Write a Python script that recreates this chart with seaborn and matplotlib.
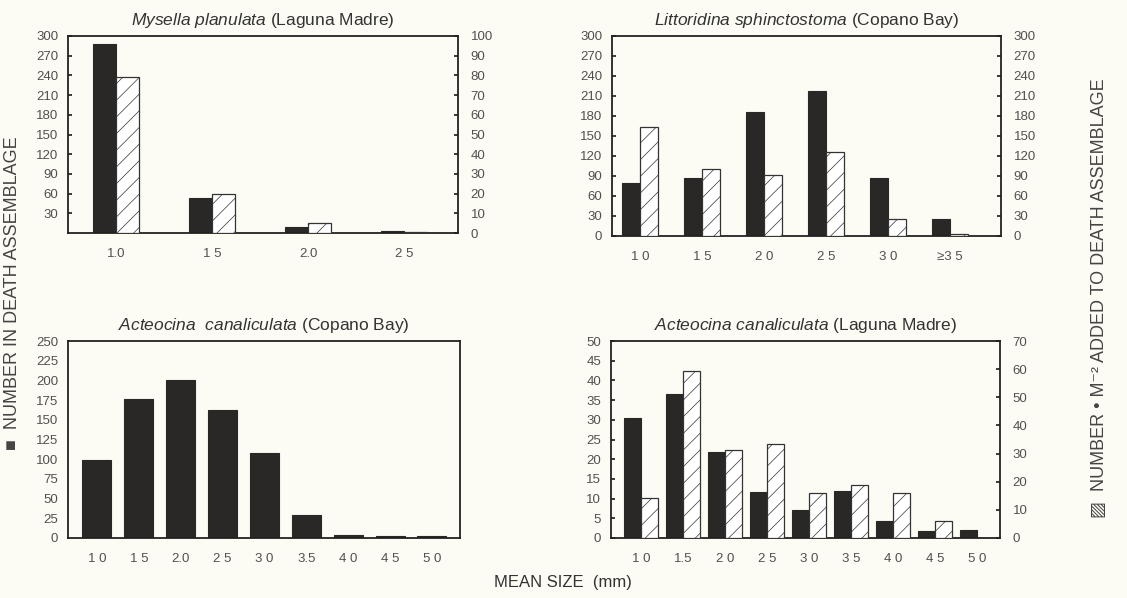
import numpy as np
import pandas as pd
import matplotlib.pyplot as plt
import seaborn as sns

# values
p1_sizes = ['1.0', '1 5', '2.0', '2 5']
p1_dead = [288, 53, 9, 3]
p1_added = [79, 20, 5, 0.3]

p2_sizes = ['1 0', '1 5', '2 0', '2 5', '3 0', '≥3 5']
p2_dead = [80, 87, 186, 217, 87, 26]
p2_added = [163, 101, 91, 126, 25, 3]

p3_sizes = ['1 0', '1 5', '2.0', '2 5', '3 0', '3.5', '4 0', '4 5', '5 0']
p3_dead = [99, 177, 201, 163, 108, 29, 4, 3, 2]

p4_sizes = ['1 0', '1.5', '2 0', '2 5', '3 0', '3 5', '4 0', '4 5', '5 0']
p4_dead = [30.5, 36.6, 21.8, 11.8, 7.1, 12.0, 4.2, 1.9, 2.0]
p4_added = [14.1, 59.2, 31.3, 33.4, 15.9, 18.9, 16.1, 6.2, 0]

sns.set_theme(style='white')
plt.rcParams['font.family'] = ['Liberation Sans', 'DejaVu Sans']
plt.rcParams['mathtext.fontset'] = 'custom'
plt.rcParams['mathtext.rm'] = 'Liberation Sans'
plt.rcParams['mathtext.it'] = 'Liberation Sans:italic'
plt.rcParams['hatch.linewidth'] = 0.5

BG = '#fdfcf4'
DARK = '#2a2827'
GREY = '#505050'
W, H = 1127, 598


def box(l, r, t, b):
    return [l / W, 1 - b / H, (r - l) / W, (b - t) / H]


def long_df(sizes, dead, added):
    a = pd.DataFrame({'size': sizes, 'value': dead, 'series': 'dead'})
    b = pd.DataFrame({'size': sizes, 'value': added, 'series': 'added'})
    return pd.concat([a, b], ignore_index=True)


def style_ax(ax, xlim, yticks, ylabels, title):
    ax.set_facecolor(BG)
    ax.set_xlim(*xlim)
    ax.set_xlabel('')
    ax.set_ylabel('')
    ax.set_yticks(yticks)
    ax.set_yticklabels(ylabels)
    ax.tick_params(axis='x', length=0, pad=11, labelsize=9.5, labelcolor=GREY)
    ax.tick_params(axis='y', direction='in', length=3, pad=7, labelsize=9.5,
                   labelcolor=GREY, color='#222')
    for s in ax.spines.values():
        s.set_visible(True)
        s.set_color('#222')
        s.set_linewidth(1.3)
    ax.set_title(title, fontsize=12.5, pad=8, color='#333')


def style_twin(tw, ymax, yticks):
    tw.set_ylim(0, ymax)
    tw.set_yticks(yticks)
    tw.set_ylabel('')
    tw.tick_params(axis='y', direction='in', length=3, pad=9, labelsize=9.5,
                   labelcolor=GREY, color='#222')
    for s in tw.spines.values():
        s.set_visible(False)


def pair_panel(rect, sizes, dead, added, width, xlim, lmax, lticks, llabels,
               rmax, rticks, title):
    df = long_df(sizes, dead, added)
    pal = {'dead': DARK, 'added': 'white'}
    ax = fig.add_axes(rect)
    sns.barplot(data=df[df.series == 'dead'], x='size', y='value', hue='series',
                hue_order=['dead', 'added'], order=sizes, palette=pal,
                width=width, dodge=True, legend=False, edgecolor=DARK,
                linewidth=0.8, ax=ax)
    tw = ax.twinx()
    sns.barplot(data=df[df.series == 'added'], x='size', y='value', hue='series',
                hue_order=['dead', 'added'], order=sizes, palette=pal,
                width=width, dodge=True, legend=False, edgecolor='#333',
                linewidth=0.9, ax=tw)
    for p in tw.patches:
        p.set_hatch('//')
    ax.set_ylim(0, lmax)
    style_ax(ax, xlim, lticks, llabels, title)
    style_twin(tw, rmax, rticks)
    tw.set_xlim(*xlim)
    return ax


fig = plt.figure(figsize=(11.27, 5.98), dpi=100, facecolor=BG)

t1 = np.arange(30, 301, 30)
pair_panel(box(68, 458, 36, 233), p1_sizes, p1_dead, p1_added, 0.48,
           (-0.5, 3.56), 300, t1, [str(v) for v in t1],
           100, np.arange(0, 101, 10),
           r'$\it{Mysella\ planulata}$ (Laguna Madre)')

t2 = np.arange(0, 301, 30)
pair_panel(box(612, 1001, 36, 236), p2_sizes, p2_dead, p2_added, 0.58,
           (-0.45, 5.82), 300, t2, [str(v) for v in t2],
           300, t2,
           r'$\it{Littoridina\ sphinctostoma}$ (Copano Bay)')

ax3 = fig.add_axes(box(68, 460, 341, 538))
df3 = pd.DataFrame({'size': p3_sizes, 'value': p3_dead})
sns.barplot(data=df3, x='size', y='value', order=p3_sizes, color=DARK,
            saturation=1, width=0.69, edgecolor=DARK, linewidth=0.8, ax=ax3)
ax3.set_ylim(0, 250)
t3 = np.arange(0, 251, 25)
style_ax(ax3, (-0.69, 8.67), t3, [str(v) for v in t3],
         r'$\it{Acteocina\ \ canaliculata}$ (Copano Bay)')

t4 = np.arange(0, 51, 5)
pair_panel(box(611, 1000, 341, 538), p4_sizes, p4_dead, p4_added, 0.8,
           (-0.72, 8.55), 50, t4, [str(v) for v in t4],
           70, np.arange(0, 71, 10),
           r'$\it{Acteocina\ canaliculata}$ (Laguna Madre)')

fig.text(13 / W, 1 - 293 / H, '■  NUMBER IN DEATH ASSEMBLAGE', rotation=90,
         ha='center', va='center', fontsize=13, color='#444')
fig.text(1100 / W, 1 - 298 / H, '▨  NUMBER • M⁻² ADDED TO DEATH ASSEMBLAGE',
         rotation=90, ha='center', va='center', fontsize=13, color='#444')
fig.text(563 / W, 1 - 583 / H, 'MEAN SIZE  (mm)', ha='center', va='center',
         fontsize=12, color='#333')

fig.savefig('out.png', dpi=100, facecolor=BG)
